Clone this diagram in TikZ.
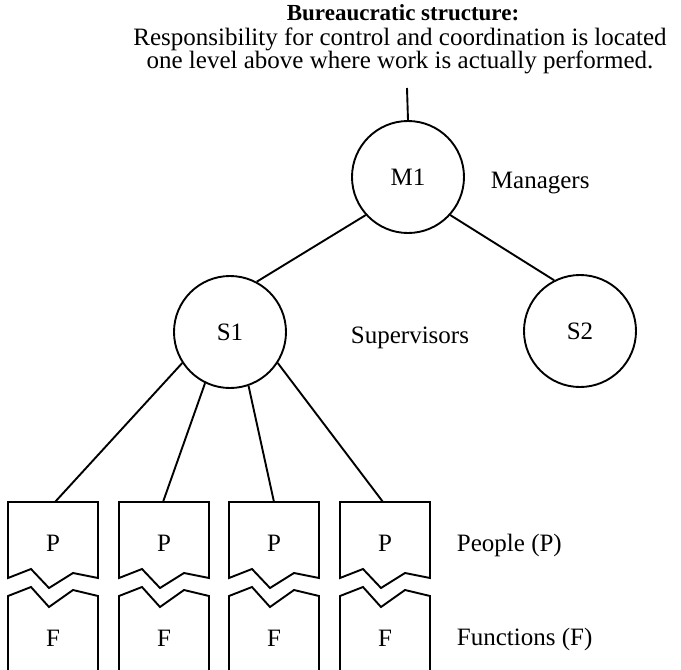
\documentclass[tikz,border=0pt]{standalone}
\usepackage{fontspec}
\setmainfont{Liberation Serif}
\begin{document}
\begin{tikzpicture}[x=1pt, y=-1pt, line width=1.9pt,
  txt/.style={font=\fontsize{25}{28}\selectfont, inner sep=0pt},
  head/.style={font=\bfseries\fontsize{23}{28}\selectfont, inner sep=0pt},
  unit/.style={circle, draw, minimum size=112pt, inner sep=0pt,
    font=\fontsize{25}{28}\selectfont},
  tag/.style={txt, anchor=base west},
  boxlabel/.style={txt, anchor=base}]
\useasboundingbox (0,0) rectangle (681,670);

% heading
\node[head, anchor=base] (title) at (403,20) {Bureaucratic structure:};
\node[txt, anchor=base] (line1) at (400,45) {Responsibility for control and coordination is located};
\node[txt, anchor=base] (line2) at (400,68) {one level above where work is actually performed.};

% hierarchy
\coordinate (top) at (407,88);
\node[unit] (M1) at (408,177) {M1};
\node[unit] (S1) at (230,332) {S1};
\node[unit] (S2) at (580,331) {S2};

\draw (top) -- (M1.north);
\draw (M1.222) -- (S1.62);
\draw (M1.318) -- (S2.117);

\node[tag] (mgr) at (490,188) {Managers};
\node[tag] (sup) at (350,343) {Supervisors};
\node[tag] (ppl) at (456,551) {People (P)};
\node[tag] (fun) at (456,645) {Functions (F)};

% people / function boxes with torn edges
\foreach \i/\L/\a in {1/8/55, 2/119/163, 3/229/274, 4/340/383} {
  \coordinate (p\i) at (\a,502);
  \draw[line join=miter] (\L,502) -- (\L+90,502) -- (\L+90,578) -- (\L+65,573)
    -- (\L+41,588) -- (\L+23,569) -- (\L,578) -- cycle;
  \draw[line join=miter] (\L,672) -- (\L,596) -- (\L+23,587) -- (\L+41,607)
    -- (\L+65,590) -- (\L+90,596) -- (\L+90,672);
  \node[boxlabel] (pl\i) at (\L+45,551) {P};
  \node[boxlabel] (fl\i) at (\L+45,646) {F};
}

\draw (S1.213) -- (p1);
\draw (S1.244) -- (p2);
\draw (S1.289) -- (p3);
\draw (S1.327) -- (p4);
\end{tikzpicture}
\end{document}
